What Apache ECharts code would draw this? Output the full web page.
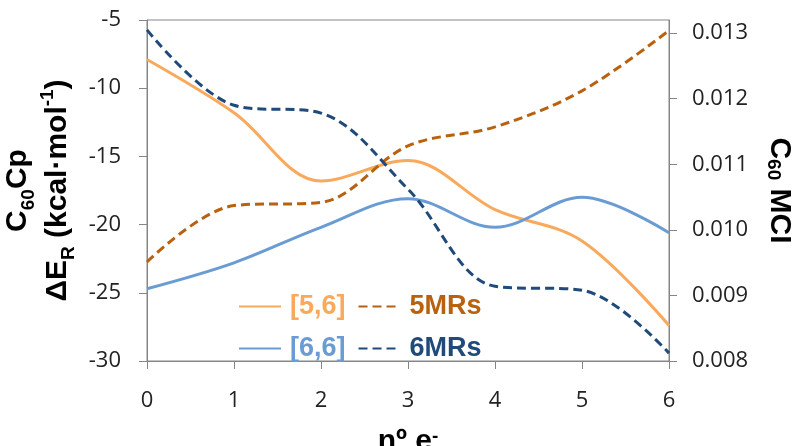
<!DOCTYPE html>
<html>
<head>
<meta charset="utf-8">
<script src="https://cdn.jsdelivr.net/npm/echarts@6/dist/echarts.min.js"></script>
<style>
  html, body { margin: 0; padding: 0; background: #fff; }
  #chart { width: 796px; height: 446px; }
</style>
</head>
<body>
<div id="chart"></div>
<script>
// nº of electrons added
const electrons = [0, 1, 2, 3, 4, 5, 6];

// ΔE_R (kcal/mol), left axis
const bond56 = [-7.9, -11.8, -16.8, -15.3, -18.9, -21.2, -27.4];
const bond66 = [-24.7, -22.8, -20.2, -18.1, -20.2, -18.0, -20.6];

// MCI, right axis
const mri5 = [0.00951, 0.01037, 0.01042, 0.01128, 0.01157, 0.01212, 0.01304];
const mri6 = [0.01305, 0.01190, 0.01178, 0.01062, 0.00914, 0.00908, 0.00812];

const leftTicks = [-30, -25, -20, -15, -10, -5];
const rightTicks = [0.008, 0.009, 0.010, 0.011, 0.012, 0.013];

const ORANGE = "#F9A95B";
const BROWN = "#B8610F";
const LIGHTBLUE = "#6A9BD3";
const DARKBLUE = "#1F4A7A";
const AXIS = "#868686";

const pairs = (ys) => electrons.map((x, i) => [x, ys[i]]);

const chart = echarts.init(document.getElementById("chart"));

const titleRich = {
  b: { fontSize: 30, fontWeight: "bold", color: "#000", fontFamily: "Liberation Sans" },
  s: { fontSize: 19, fontWeight: "bold", color: "#000", fontFamily: "Liberation Sans", verticalAlign: "bottom" },
  p: { fontSize: 19, fontWeight: "bold", color: "#000", fontFamily: "Liberation Sans", verticalAlign: "top" },
};

const labelStyle = {
  fontSize: 22,
  color: "#222",
  fontFamily: "Open Sans",
};

const legendBase = {
  left: 233,
  itemWidth: 42,
  itemHeight: 14,
  itemGap: 12,
  itemStyle: { opacity: 0 },
  textStyle: { fontSize: 27, fontWeight: "bold", fontFamily: "Liberation Sans", padding: [0, 0, 0, 4] },
};

chart.setOption({
  animation: false,
  grid: {
    left: 147,
    right: 127,
    top: 20,
    bottom: 85,
    containLabel: false,
    outerBoundsMode: "none",
    show: true,
    borderColor: AXIS,
    borderWidth: 1,
  },
  legend: [
    {
      ...legendBase,
      top: 288,
      data: [
        { name: "[5,6]", textStyle: { color: ORANGE } },
        { name: "5MRs", textStyle: { color: BROWN } },
      ],
    },
    {
      ...legendBase,
      top: 330,
      data: [
        { name: "[6,6]", textStyle: { color: LIGHTBLUE } },
        { name: "6MRs", textStyle: { color: DARKBLUE } },
      ],
    },
  ],
  xAxis: {
    type: "value",
    min: 0,
    max: 6,
    interval: 1,
    name: "nº e{p|-}",
    nameLocation: "middle",
    nameGap: 66,
    nameTextStyle: { fontSize: 30, fontWeight: "bold", color: "#000", fontFamily: "Liberation Sans", rich: titleRich },
    axisLine: { lineStyle: { color: AXIS, width: 1 } },
    axisTick: { length: 8, lineStyle: { color: AXIS } },
    axisLabel: { ...labelStyle, margin: 29 },
    splitLine: { show: false },
  },
  yAxis: [
    {
      type: "value",
      min: -30,
      max: -5,
      interval: 5,
      name: "{b|C}{s|60}{b|Cp}\n{b|ΔE}{s|R}{b| (kcal·mol}{p|-1}{b|)}",
      nameLocation: "middle",
      nameGap: 64,
      nameTextStyle: { lineHeight: 40, rich: titleRich },
      axisLine: { show: true, lineStyle: { color: AXIS, width: 1 } },
      axisTick: { show: true, length: 8, lineStyle: { color: AXIS }, customValues: leftTicks },
      axisLabel: { ...labelStyle, margin: 26, customValues: leftTicks },
      splitLine: { show: false },
    },
    {
      type: "value",
      min: 0.008,
      max: 0.0132,
      position: "right",
      name: "{b|C}{s|60}{b| MCI}",
      nameLocation: "middle",
      nameRotate: -90,
      nameGap: 95,
      nameTextStyle: { rich: titleRich },
      axisLine: { show: true, lineStyle: { color: AXIS, width: 1 } },
      axisTick: { show: true, length: 8, lineStyle: { color: AXIS }, customValues: rightTicks },
      axisLabel: {
        ...labelStyle,
        margin: 23,
        customValues: rightTicks,
        formatter: (v) => v.toFixed(3),
      },
      splitLine: { show: false },
    },
  ],
  series: [
    {
      name: "[5,6]",
      type: "line",
      yAxisIndex: 0,
      smooth: 0.35,
      symbol: "none",
      color: ORANGE,
      lineStyle: { width: 3, color: ORANGE },
      data: pairs(bond56),
    },
    {
      name: "5MRs",
      type: "line",
      yAxisIndex: 1,
      smooth: 0.35,
      symbol: "none",
      color: BROWN,
      lineStyle: { width: 3, color: BROWN, type: [9, 5] },
      data: pairs(mri5),
    },
    {
      name: "[6,6]",
      type: "line",
      yAxisIndex: 0,
      smooth: 0.35,
      symbol: "none",
      color: LIGHTBLUE,
      lineStyle: { width: 3, color: LIGHTBLUE },
      data: pairs(bond66),
    },
    {
      name: "6MRs",
      type: "line",
      yAxisIndex: 1,
      smooth: 0.35,
      symbol: "none",
      color: DARKBLUE,
      lineStyle: { width: 3, color: DARKBLUE, type: [9, 5] },
      data: pairs(mri6),
    },
  ],
});
</script>
</body>
</html>
